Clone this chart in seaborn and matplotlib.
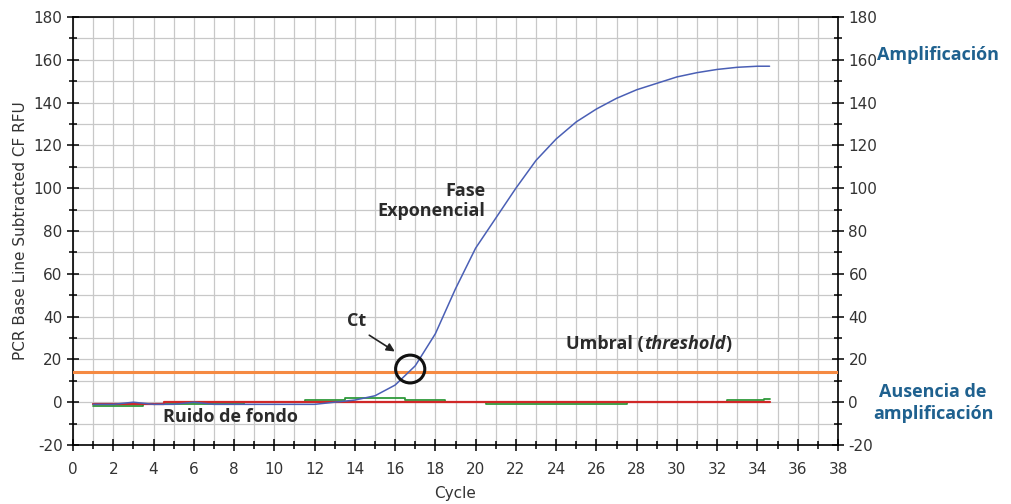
import matplotlib
matplotlib.use("Agg")
import matplotlib.pyplot as plt
from matplotlib.patches import Ellipse
from matplotlib.ticker import MultipleLocator
import seaborn as sns
import pandas as pd

sns.set_theme(style="white")
plt.rcParams['font.family'] = ['DejaVu Sans']
plt.rcParams['axes.unicode_minus'] = False

cycles = [1, 2, 3, 4, 5, 6, 7, 8, 9, 10, 11, 12, 13, 14, 15, 16, 17, 18, 19, 20,
          21, 22, 23, 24, 25, 26, 27, 28, 29, 30, 31, 32, 33, 34, 34.6]
amplification = [-1, -1, 0, -1, -1, 0, -1, -1, -1, -1, -1, -1, 0, 1, 3, 8, 17, 32, 53, 72,
                 86, 100, 113, 123, 131, 137, 142, 146, 149, 152, 154, 155.5, 156.5, 157, 157]
noise_green = [-2, -2, -2, -1, -1, -1, -1, -1, 0, 0, 0, 1, 1, 2, 2, 2, 1, 1, 0, 0,
               -1, -1, -1, -1, -1, -1, -1, 0, 0, 0, 0, 0, 1, 1, 1.5]
noise_red = [-1, -1, -1, -1, 0, 0, 0, 0, 0, 0, 0, 0, 0, 0, 0, 0, 0, 0, 0, 0,
             0, 0, 0, 0, 0, 0, 0, 0, 0, 0, 0, 0, 0, 0, 0]
threshold = 14

df = pd.DataFrame({"Cycle": cycles, "amp": amplification,
                   "green": noise_green, "red": noise_red})

fig = plt.figure(figsize=(10.11, 5.04), dpi=100)
ax = fig.add_axes([73/1011, 1-445/504, (838-73)/1011, (445-17)/504])

ax.axhline(threshold, color="#f58a42", lw=2.2, zorder=3)
sns.lineplot(data=df, x="Cycle", y="green", ax=ax, color="#2e9a3a", lw=1.3, zorder=4, drawstyle="steps-mid")
sns.lineplot(data=df, x="Cycle", y="red", ax=ax, color="#d02828", lw=1.6, zorder=4, drawstyle="steps-mid")
sns.lineplot(data=df, x="Cycle", y="amp", ax=ax, color="#4a5fb5", lw=1.1, zorder=5)

ax.set_xlim(0, 38)
ax.set_ylim(-20, 180)
ax.xaxis.set_major_locator(MultipleLocator(2))
ax.xaxis.set_minor_locator(MultipleLocator(1))
ax.yaxis.set_major_locator(MultipleLocator(20))
ax.yaxis.set_minor_locator(MultipleLocator(10))
ax.grid(which="both", color="#c8c8c8", lw=0.9)
ax.set_axisbelow(True)
for s in ax.spines.values():
    s.set_color("black")
    s.set_linewidth(1.2)
ax.tick_params(which="both", direction="inout", length=8, width=1.1, color="black",
               labelsize=11, labelcolor="#333333", right=True, labelright=True,
               bottom=True, left=True, top=False)
ax.tick_params(axis="x", pad=8)
ax.tick_params(which="minor", length=6)
ax.set_xlabel("Cycle", fontsize=11, color="#333333", labelpad=7)
ax.set_ylabel("PCR Base Line Subtracted CF RFU", fontsize=11, color="#333333", labelpad=4)

# Ct marker
circ = Ellipse((16.75, 15.5), width=1.45, height=13, fill=False, edgecolor="#111111", lw=2.2, zorder=6)
ax.add_patch(circ)
ax.annotate("", xy=(16.1, 23), xytext=(14.6, 32),
            arrowprops=dict(arrowstyle="-|>", color="#222222", lw=1.2, mutation_scale=12), zorder=6)

fam = ["Open Sans", "DejaVu Sans"]
tk = dict(fontsize=13, fontweight="bold", color="#2b2b2b", family=fam)
ax.text(14.1, 38, "Ct", ha="center", va="center", **tk)
ax.text(20.5, 94, "Fase\nExponencial", ha="right", va="center", linespacing=1.15, **tk)
ax.text(7.8, -7, "Ruido de fondo", ha="center", va="center", **tk)

# Umbral (threshold) with italic part, laid out piece by piece
fig.canvas.draw()
renderer = fig.canvas.get_renderer()
x0 = 24.5
pieces = [("Umbral (", "normal"), ("threshold", "italic"), (")", "normal")]
inv = ax.transData.inverted()
for txt, style in pieces:
    t = ax.text(x0, 27, txt, ha="left", va="center", fontstyle=style, **tk)
    bb = t.get_window_extent(renderer=renderer)
    x0 = inv.transform((bb.x1, bb.y0))[0]

bk = dict(fontsize=13, fontweight="bold", color="#1f618f", family=fam)
fig.text(938/1011, 1-55/504, "Amplificación", ha="center", va="center", **bk)
fig.text(933/1011, 1-403/504, "Ausencia de\namplificación", ha="center", va="center",
         linespacing=1.3, **bk)

fig.savefig("out.png", dpi=100)
